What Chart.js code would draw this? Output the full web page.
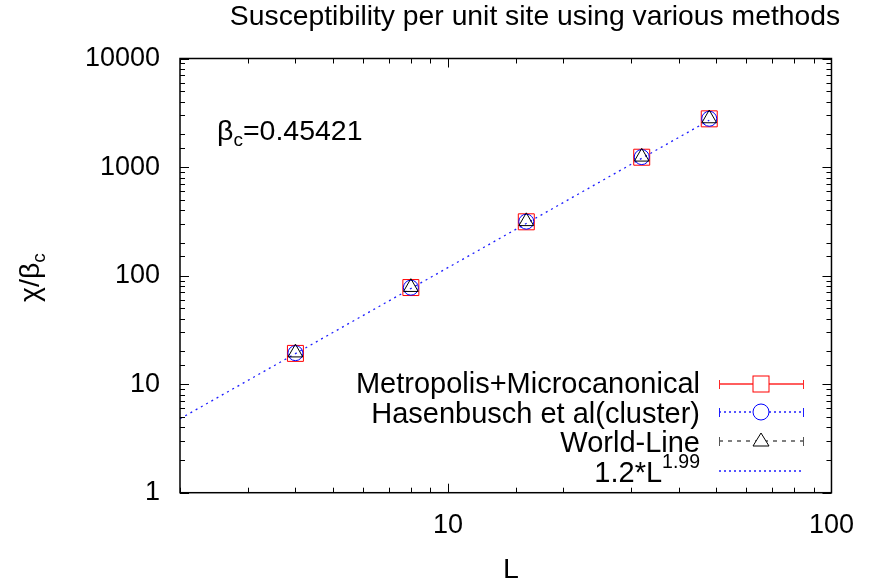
<!DOCTYPE html>
<html>
<head>
<meta charset="utf-8">
<title>Susceptibility per unit site</title>
<script src="https://cdn.jsdelivr.net/npm/chart.js@4.4.0/dist/chart.umd.min.js"></script>
<style>
  html, body { margin: 0; padding: 0; background: #fff; }
  #wrap { width: 871px; height: 586px; }
</style>
</head>
<body>
<div id="wrap"><canvas id="chart" width="871" height="586"></canvas></div>
<script>
// Data
const sizesL = [4, 8, 16, 32, 48];
const metropolis = [19.2, 77.6, 313, 1232, 2780];
const hasenbusch = [19.3, 77.4, 314, 1235, 2785];
const worldLine = [19.5, 78.2, 316, 1242, 2800];
const fitL = [2, 48];
const fitY = [4.8, 2700];
const xTickLabels = [10, 100];
const yTickLabels = [1, 10, 100, 1000, 10000];

const FONT = '"Liberation Sans", Arial, Helvetica, sans-serif';
const BLUE = 'rgb(30,30,255)';

function pts(xs, ys) {
    return xs.map((x, i) => ({ x: x, y: ys[i] }));
}

function isDecade(v) {
    const l = Math.log10(v);
    return Math.abs(l - Math.round(l)) < 1e-9;
}

// white page behind everything
const whiteBg = {
    id: 'whiteBg',
    beforeDraw(chart) {
        const c = chart.ctx;
        c.save();
        c.fillStyle = '#fff';
        c.fillRect(0, 0, chart.width, chart.height);
        c.restore();
    }
};

// gnuplot style frame: border plus inward ticks on all four sides
const frame = {
    id: 'frame',
    afterDatasetsDraw(chart) {
        const c = chart.ctx;
        const a = chart.chartArea;
        const sx = chart.scales.x, sy = chart.scales.y;
        c.save();
        c.strokeStyle = '#000';
        c.lineWidth = 1;
        sx.ticks.forEach(t => {
            const px = Math.round(sx.getPixelForValue(t.value)) + 0.5;
            const len = isDecade(t.value) ? 9 : 5;
            c.beginPath();
            c.moveTo(px, a.bottom); c.lineTo(px, a.bottom - len);
            c.moveTo(px, a.top); c.lineTo(px, a.top + len);
            c.stroke();
        });
        sy.ticks.forEach(t => {
            const py = Math.round(sy.getPixelForValue(t.value)) + 0.5;
            const len = isDecade(t.value) ? 9 : 5;
            c.beginPath();
            c.moveTo(a.left, py); c.lineTo(a.left + len, py);
            c.moveTo(a.right, py); c.lineTo(a.right - len, py);
            c.stroke();
        });
        c.lineWidth = 1.5;
        c.strokeRect(a.left, a.top, a.right - a.left, a.bottom - a.top);
        c.restore();
    }
};

function drawSub(c, base, sub, x, y) {
    // base text then a lowered subscript, left aligned at x
    c.font = '28.5px ' + FONT;
    c.textAlign = 'left';
    c.fillText(base, x, y);
    const w = c.measureText(base).width;
    c.font = '19px ' + FONT;
    c.fillText(sub, x + w, y + 6);
    return w + c.measureText(sub).width;
}

// title, axis titles, annotation and legend
const labels = {
    id: 'labels',
    afterDraw(chart) {
        const c = chart.ctx;
        c.save();
        c.fillStyle = '#000';
        c.textBaseline = 'alphabetic';

        // title
        c.font = '28.3px ' + FONT;
        c.textAlign = 'center';
        c.fillText('Susceptibility per unit site using various methods', 535, 25);

        // x title
        c.font = '28.5px ' + FONT;
        c.fillText('L', 511, 578);

        // y title, rotated
        c.save();
        c.translate(39, 302);
        c.rotate(-Math.PI / 2);
        drawSub(c, 'χ/β', 'c', 0, 0);
        c.restore();

        // beta_c annotation
        const w = drawSub(c, 'β', 'c', 217, 140);
        c.font = '28.5px ' + FONT;
        c.textAlign = 'left';
        c.fillText('=0.45421', 217 + w, 140);

        // legend
        const textRight = 700, x0 = 719, x1 = 803, xm = 761;
        const rows = [
            { label: 'Metropolis+Microcanonical', base: 393 },
            { label: 'Hasenbusch et al(cluster)', base: 422.5 },
            { label: 'World-Line', base: 452 }
        ];
        c.textAlign = 'right';
        c.font = '29px ' + FONT;
        rows.forEach(r => c.fillText(r.label, textRight, r.base));
        // 1.2*L^1.99
        c.font = '19.5px ' + FONT;
        c.fillText('1.99', textRight, 468);
        const sw = c.measureText('1.99').width;
        c.font = '29px ' + FONT;
        c.fillText('1.2*L', textRight - sw, 482);

        function sample(y, color, dash, whiskers) {
            c.save();
            c.strokeStyle = color;
            c.lineWidth = 1.3;
            c.setLineDash(dash);
            c.beginPath();
            c.moveTo(x0, y); c.lineTo(x1, y);
            c.stroke();
            c.setLineDash([]);
            if (whiskers) {
                c.lineWidth = 1;
                c.beginPath();
                c.moveTo(x0 + 0.5, y - 4); c.lineTo(x0 + 0.5, y + 5);
                c.moveTo(x1 + 0.5, y - 4); c.lineTo(x1 + 0.5, y + 5);
                c.stroke();
            }
            c.restore();
        }
        sample(384, 'rgb(255,40,40)', [], true);
        sample(412, BLUE, [2, 3], true);
        sample(441, '#555', [4, 5], true);
        sample(471, BLUE, [2, 3], false);

        // legend markers
        c.lineWidth = 1;
        c.strokeStyle = 'rgb(255,0,0)';
        c.fillStyle = '#fff';
        c.fillRect(xm - 8, 376, 16, 16);
        c.strokeRect(xm - 8, 376, 16, 16);
        c.strokeStyle = 'rgb(0,0,255)';
        c.beginPath();
        c.arc(xm, 412, 8, 0, Math.PI * 2);
        c.fill();
        c.stroke();
        c.strokeStyle = '#000';
        c.beginPath();
        c.moveTo(xm, 433); c.lineTo(xm + 8, 446); c.lineTo(xm - 8, 446); c.closePath();
        c.fill();
        c.stroke();

        c.restore();
    }
};

new Chart(document.getElementById('chart'), {
    type: 'scatter',
    data: {
        datasets: [
            {
                label: 'Metropolis+Microcanonical',
                data: pts(sizesL, metropolis),
                pointStyle: 'rect',
                pointRadius: 11.3,
                borderColor: 'rgb(255,0,0)',
                backgroundColor: 'transparent',
                borderWidth: 1,
                order: 3
            },
            {
                label: 'Hasenbusch et al(cluster)',
                data: pts(sizesL, hasenbusch),
                pointStyle: 'circle',
                pointRadius: 7.5,
                borderColor: 'rgb(0,0,255)',
                backgroundColor: 'transparent',
                borderWidth: 1,
                order: 2
            },
            {
                label: 'World-Line',
                data: pts(sizesL, worldLine),
                pointStyle: 'triangle',
                pointRadius: 8.5,
                borderColor: '#000',
                backgroundColor: 'transparent',
                borderWidth: 1,
                order: 1
            },
            {
                label: '1.2*L^1.99',
                data: pts(fitL, fitY),
                showLine: true,
                pointRadius: 0,
                borderColor: BLUE,
                borderWidth: 1.3,
                borderDash: [2, 4],
                fill: false,
                order: 4
            }
        ]
    },
    options: {
        responsive: false,
        animation: false,
        events: [],
        layout: { padding: { top: 58.5, right: 38, left: 0, bottom: 0 } },
        plugins: {
            legend: { display: false },
            title: { display: false },
            tooltip: { enabled: false }
        },
        scales: {
            x: {
                type: 'logarithmic',
                position: 'bottom',
                min: 2,
                max: 100,
                grid: { display: false, drawTicks: false },
                border: { display: false },
                afterFit: s => { s.height = 93.3; },
                ticks: {
                    autoSkip: false,
                    maxRotation: 0,
                    padding: 17,
                    color: '#000',
                    font: { family: FONT, size: 27 },
                    callback: v => xTickLabels.find(t => Math.abs(t - v) < 1e-9) !== undefined ? String(v) : ''
                }
            },
            y: {
                type: 'logarithmic',
                min: 1,
                max: 10000,
                grid: { display: false, drawTicks: false },
                border: { display: false },
                afterFit: s => { s.width = 180; },
                ticks: {
                    autoSkip: false,
                    padding: 20,
                    color: '#000',
                    font: { family: FONT, size: 27 },
                    callback: v => yTickLabels.find(t => Math.abs(t - v) < 1e-9) !== undefined ? String(v) : ''
                }
            }
        }
    },
    plugins: [whiteBg, frame, labels]
});
</script>
</body>
</html>
